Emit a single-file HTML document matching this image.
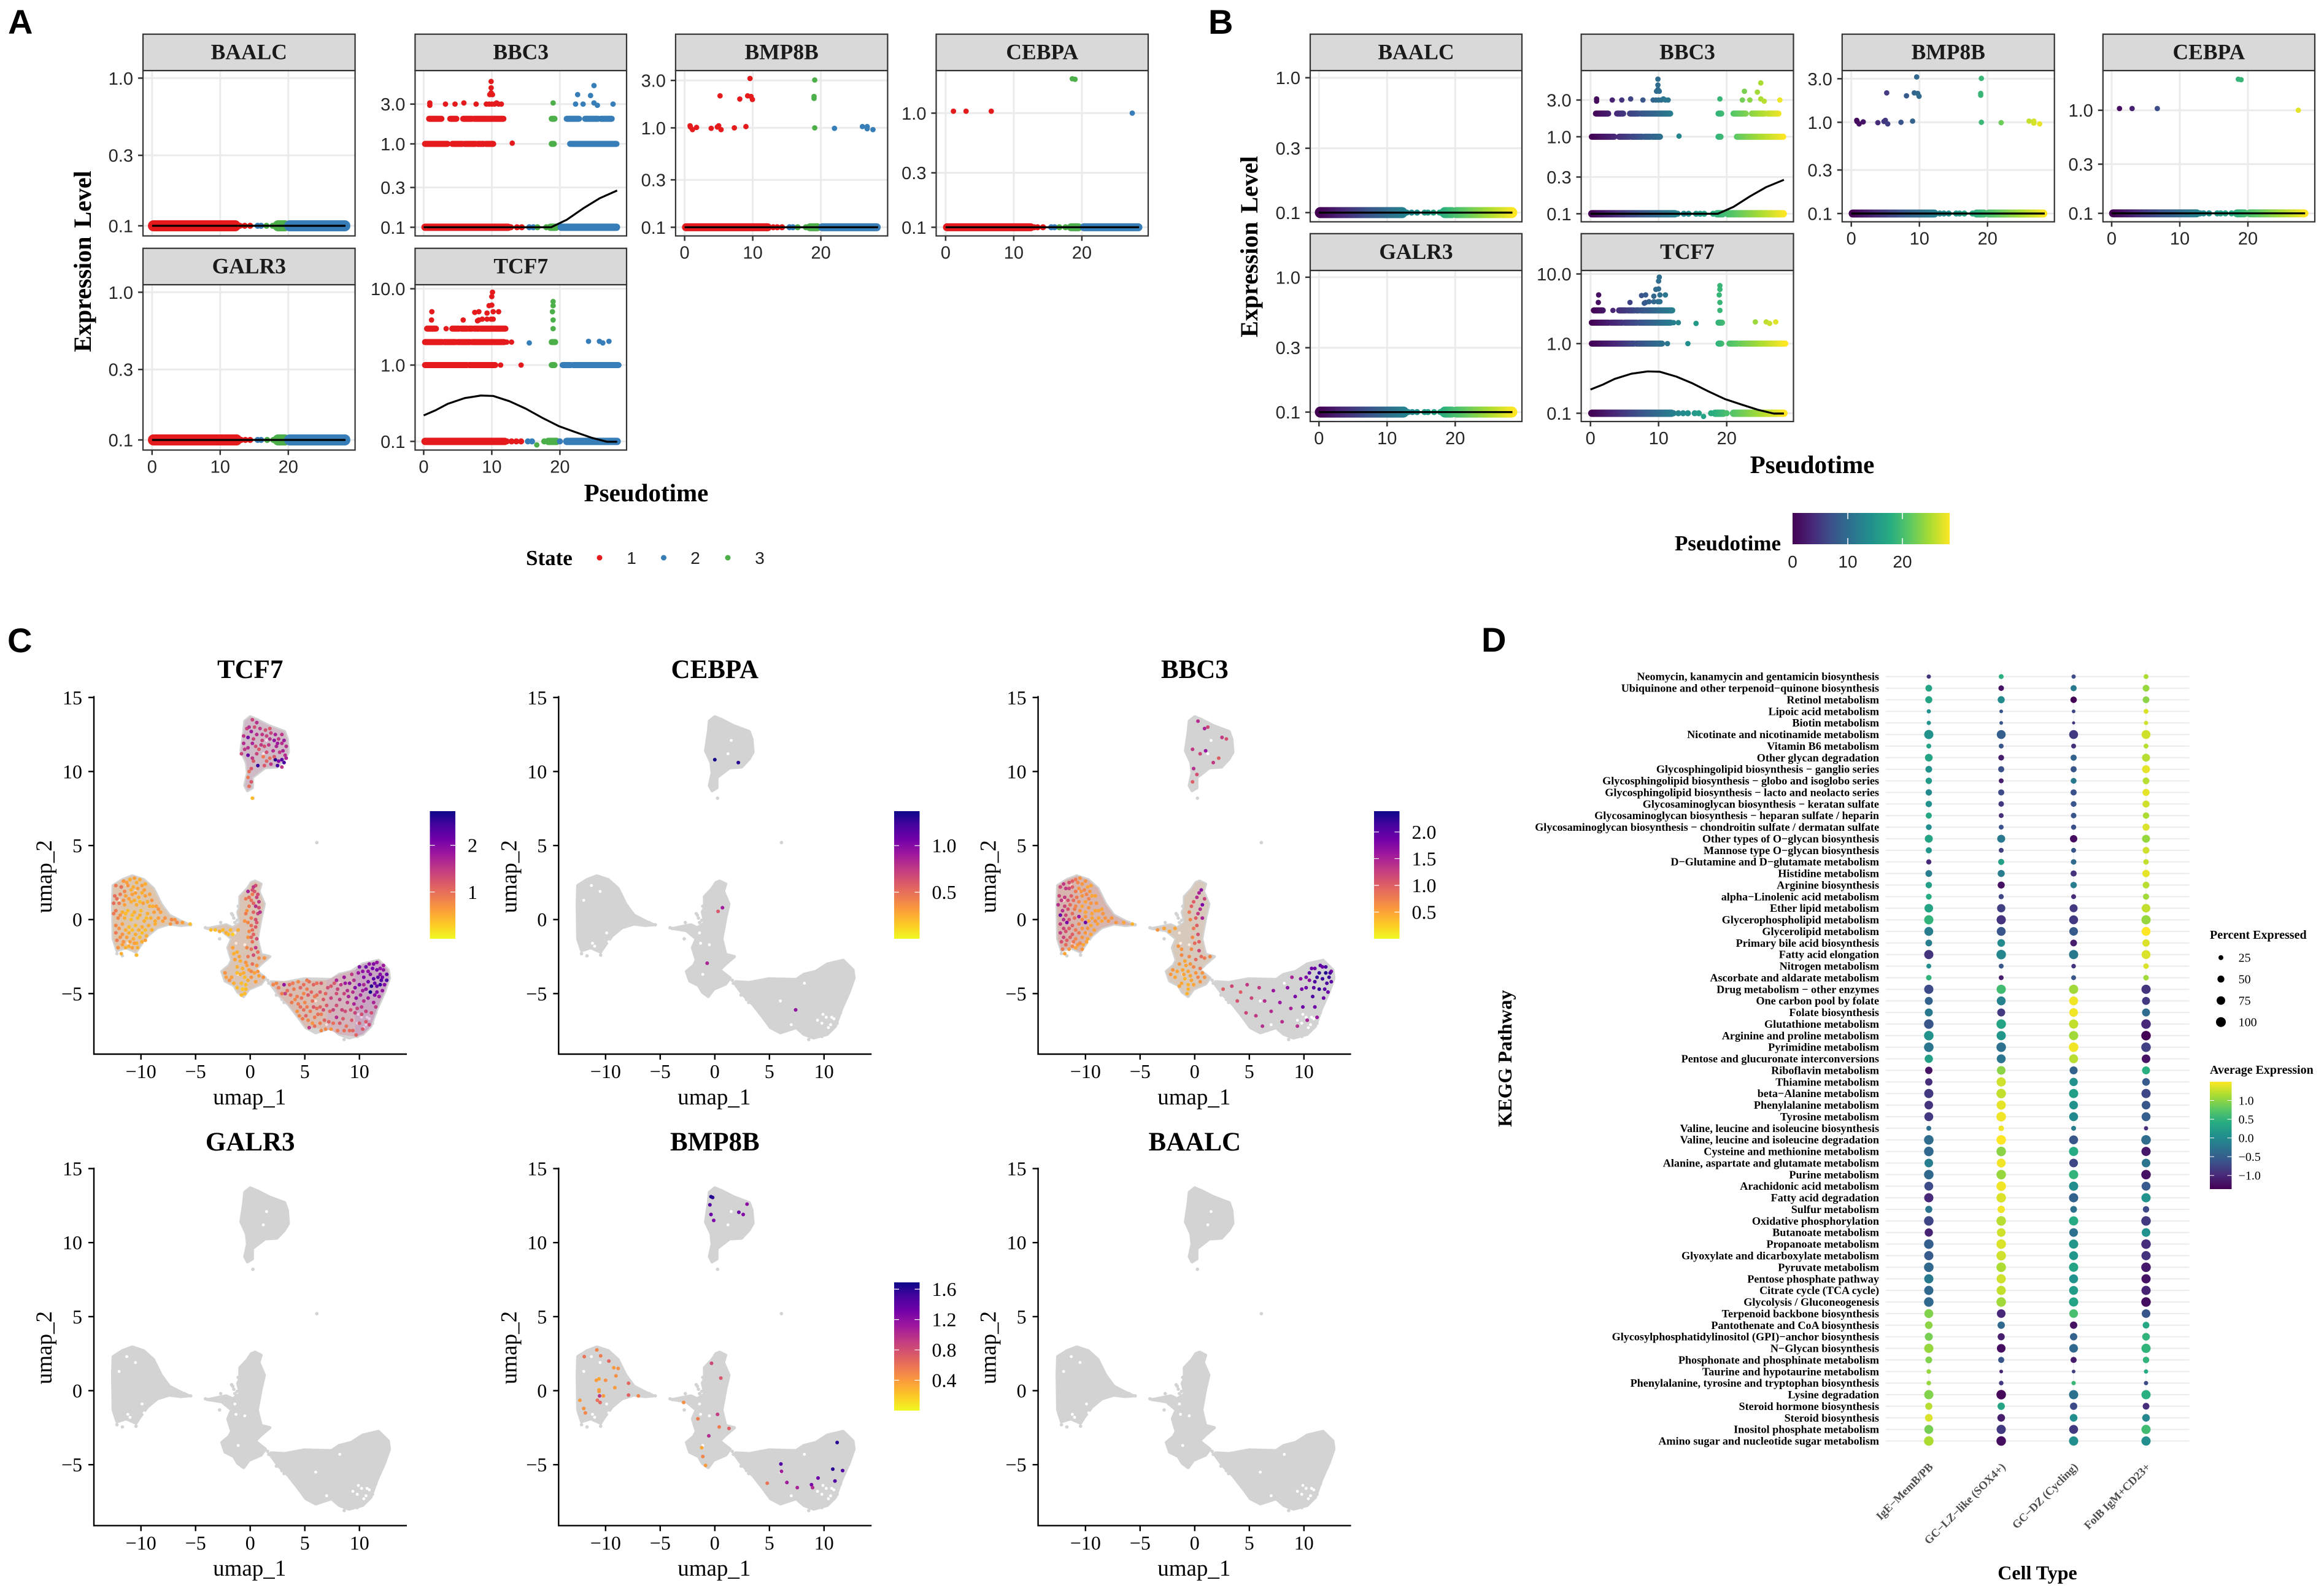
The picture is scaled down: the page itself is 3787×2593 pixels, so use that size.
<!DOCTYPE html>
<html lang="en">
<head>
<meta charset="utf-8">
<title>Pseudotime, UMAP and KEGG pathway figure</title>
<style>
html,body{margin:0;padding:0;background:#fff}
svg{display:block}
.serif{font-family:"Liberation Serif",serif}
.sans{font-family:"Liberation Sans",sans-serif}
.letter{font-family:"Liberation Sans",sans-serif;font-weight:700;font-size:56px;fill:#000}
.axt{font-family:"Liberation Serif",serif;font-weight:700;fill:#000}
</style>
</head>
<body>
<svg id="fig" xmlns="http://www.w3.org/2000/svg" width="3787" height="2593" viewBox="0 0 3787 2593">
<rect x="0" y="0" width="3787" height="2593" fill="#fff"/>
<defs>
<linearGradient id="viridisH" x1="0" y1="0" x2="1" y2="0"><stop offset="0" stop-color="#440154"/><stop offset=".125" stop-color="#482878"/><stop offset=".25" stop-color="#3b528b"/><stop offset=".375" stop-color="#2c728e"/><stop offset=".5" stop-color="#21908d"/><stop offset=".625" stop-color="#27ad81"/><stop offset=".75" stop-color="#5ec962"/><stop offset=".875" stop-color="#aadc32"/><stop offset="1" stop-color="#fde725"/></linearGradient>
<linearGradient id="viridisV" x1="0" y1="1" x2="0" y2="0"><stop offset="0" stop-color="#440154"/><stop offset=".125" stop-color="#482878"/><stop offset=".25" stop-color="#3b528b"/><stop offset=".375" stop-color="#2c728e"/><stop offset=".5" stop-color="#21908d"/><stop offset=".625" stop-color="#27ad81"/><stop offset=".75" stop-color="#5ec962"/><stop offset=".875" stop-color="#aadc32"/><stop offset="1" stop-color="#fde725"/></linearGradient>
<linearGradient id="plasmaV" x1="0" y1="0" x2="0" y2="1"><stop offset="0" stop-color="#0d0887"/><stop offset=".111" stop-color="#46039f"/><stop offset=".222" stop-color="#7201a8"/><stop offset=".333" stop-color="#9c179e"/><stop offset=".444" stop-color="#bd3786"/><stop offset=".556" stop-color="#d8576b"/><stop offset=".667" stop-color="#ed7953"/><stop offset=".778" stop-color="#fb9f3a"/><stop offset=".889" stop-color="#fdca26"/><stop offset="1" stop-color="#f0f921"/></linearGradient>
</defs>

<text class="letter" x="13" y="55">A</text>
<text class="letter" x="1969" y="55">B</text>
<text class="letter" x="12" y="1063">C</text>
<text class="letter" x="2414" y="1062">D</text>

<text class="axt" font-size="40" word-spacing="4" text-anchor="middle" transform="translate(148 426) rotate(-90)">Expression Level</text>
<text class="axt" font-size="41" text-anchor="middle" x="1053" y="817">Pseudotime</text>
<text class="axt" font-size="35" x="857" y="921">State</text>
<circle cx="977" cy="909" r="4.5" fill="#e41a1c"/>
<text class="sans" font-size="28" fill="#222" text-anchor="middle" x="1029" y="919">1</text>
<circle cx="1081.5" cy="909" r="4.5" fill="#377eb8"/>
<text class="sans" font-size="28" fill="#222" text-anchor="middle" x="1133" y="919">2</text>
<circle cx="1186" cy="909" r="4.5" fill="#4daf4a"/>
<text class="sans" font-size="28" fill="#222" text-anchor="middle" x="1238" y="919">3</text>

<text class="axt" font-size="40" word-spacing="4" text-anchor="middle" transform="translate(2049 402) rotate(-90)">Expression Level</text>
<text class="axt" font-size="41" text-anchor="middle" x="2953" y="771">Pseudotime</text>
<text class="axt" font-size="35" x="2729" y="897">Pseudotime</text>
<rect x="2921" y="836" width="256" height="51" fill="url(#viridisH)"/>
<text class="sans" font-size="28" fill="#222" text-anchor="middle" x="2921" y="925">0</text>
<text class="sans" font-size="28" fill="#222" text-anchor="middle" x="3011" y="925">10</text>
<text class="sans" font-size="28" fill="#222" text-anchor="middle" x="3100" y="925">20</text>
<path d="M3011 836v10M3011 877v10M3100 836v10M3100 877v10" stroke="#fff" stroke-width="1.5"/>

<text class="axt" font-size="32" text-anchor="middle" transform="translate(2463 1725) rotate(-90)">KEGG Pathway</text>
<text class="axt" font-size="32" text-anchor="middle" x="3320" y="2574">Cell Type</text>
<text class="axt" font-size="20" x="3601" y="1530">Percent Expressed</text>
<text class="axt" font-size="20" x="3601" y="1750">Average Expression</text>
<rect x="3601" y="1763" width="35.5" height="175" fill="url(#viridisV)"/>

<g id="root"></g>
</svg>

<script>
// ---- Pseudotime facets: shared axis ticks ----
const pseudotimeTicks = [0, 10, 20];
const ticksBAALC = [0.1, 0.3, 1];
const ticksGALR3 = [0.1, 0.3, 1];
const ticksBBC3 = [0.1, 0.3, 1, 3];
const ticksTCF7 = [0.1, 1, 10];
const ticksBMP8B = [0.1, 0.3, 1, 3];
const ticksCEBPA = [0.1, 0.3, 1];

// state spans over pseudotime: from, to, state
const stateSpans = [[0, 14.8, 1], [14.8, 16.4, 2], [16.4, 20, 3], [20, 30, 2]];

// dense runs of cells: level, from, to
const baalcBands = [[0.1, 0.2, 12.2], [0.1, 18.5, 19.5], [0.1, 20.2, 28.3]];
const baalcCells = [[12.9, 0.1], [13.6, 0.1], [14.4, 0.1], [15.5, 0.1], [16, 0.1], [16.8, 0.1], [17.7, 0.1]];
const galr3Bands = [[0.1, 0.2, 12.4], [0.1, 18.5, 19.5], [0.1, 20.2, 28.3]];
const galr3Cells = [[13.1, 0.1], [13.7, 0.1], [14.4, 0.1], [15.5, 0.1], [16, 0.1], [16.9, 0.1], [17.8, 0.1]];
const bbc3Bands = [[0.1, 0.2, 12.4], [0.1, 18.6, 19.4], [0.1, 20.2, 28.3], [1, 0.2, 3.5], [1, 4.2, 5.7], [1, 6, 7.6], [1, 7.9, 8.8], [1, 9.1, 10.2], [1, 18.8, 19.1], [1, 21.5, 28.3], [2, 0.8, 2.6], [2, 3.9, 4.8], [2, 5.8, 7.1], [2, 7.4, 11.7], [2, 18.8, 19.2], [2, 21, 22.8], [2, 23.7, 25.6], [2, 26, 27.6]];
const bbc3Cells = [[0.9, 3.1], [0.9, 2.9], [3.2, 3], [4.6, 3], [5.9, 3.1], [7.7, 3], [9.2, 3], [9.6, 3], [10, 3], [10.4, 3], [10.7, 3.1], [11, 3], [11.4, 3], [9.7, 3.9], [9.9, 4.1], [10.1, 3.9], [9.9, 4.7], [9.9, 5.6], [13, 1.02], [19, 3.1], [22.6, 3.9], [24.5, 3.8], [25, 5], [22.3, 3], [23.4, 3], [25, 3.1], [25.5, 2.9], [27.8, 3], [12.8, 0.1], [13.7, 0.1], [14.4, 0.1], [15.5, 0.1], [16.1, 0.1], [16.7, 0.1], [18, 0.1]];
const tcf7Bands = [[0.1, 0.2, 11.9], [0.1, 18.3, 19.5], [0.1, 21, 28.4], [1, 0.2, 6.4], [1, 6.7, 10.5], [1, 18.8, 19.2], [1, 20.4, 21.6], [1, 21.9, 28.6], [2, 0.2, 2.7], [2, 3, 4.7], [2, 5, 6.8], [2, 7.1, 11.8], [2, 18.8, 19.3], [3, 0.5, 1.8], [3, 4.2, 5.2], [3, 5.5, 6.4], [3, 6.7, 7.1], [3, 7.4, 8.1], [3, 8.3, 12]];
const tcf7Cells = [[12.2, 2], [12.9, 2], [3.3, 3], [11.3, 1], [14.3, 1], [15.5, 1.95], [24.2, 2.05], [25.8, 2.05], [26.3, 1.95], [27.2, 2.05], [1.2, 5], [1.15, 3.9], [5.8, 3.9], [7.5, 4.9], [8.1, 5], [8.1, 3.9], [7.9, 3.8], [9.3, 4.8], [9.3, 4], [9.9, 4], [10.2, 4], [8.6, 4], [9.6, 6], [10, 6.1], [10.2, 5], [11, 5], [10, 7.9], [10.1, 9], [19, 6.8], [19, 6], [18.9, 5], [19, 3.9], [19, 3], [12.2, 0.1], [12.9, 0.1], [13.6, 0.1], [14.3, 0.1], [15.3, 0.1], [15.9, 0.1], [16.6, 0.09], [17.7, 0.1], [20, 0.1]];
const bmp8bBands = [[0.1, 0.2, 12.2], [0.1, 18.4, 19.5], [0.1, 20.2, 28.2]];
const bmp8bCells = [[0.8, 1.05], [0.85, 1.02], [1.15, 0.96], [1.75, 1.01], [3.9, 0.99], [4.8, 1.02], [5, 1.05], [5.35, 0.96], [7.3, 1], [9, 1.03], [5.2, 2.1], [8.1, 1.95], [9.25, 2.1], [9.75, 2.07], [9.95, 1.93], [9.6, 3.14], [19.1, 3.03], [19, 1.98], [19, 2.07], [19.1, 1], [22, 0.99], [26.1, 1.03], [26.8, 1.03], [26.8, 0.98], [27.65, 0.96], [13, 0.1], [13.6, 0.1], [14.3, 0.1], [15.4, 0.1], [15.9, 0.1], [16.6, 0.1], [17.8, 0.1]];
const cebpaBands = [[0.1, 0.2, 12.5], [0.1, 18.4, 19.5], [0.1, 20.3, 28.3]];
const cebpaCells = [[1.15, 1.04], [3, 1.04], [6.7, 1.04], [18.6, 2], [19, 1.98], [27.4, 1], [13, 0.1], [13.5, 0.1], [14.3, 0.1], [15.5, 0.1], [16, 0.1], [16.7, 0.1], [17.6, 0.1]];

// fitted trend lines
const flatCurveT = [0, 28.4];
const flatCurveV = [0.1, 0.1];
const bbc3CurveT = [0, 18.7, 21, 23.4, 25.8, 28.4];
const bbc3CurveV = [0.1, 0.1, 0.123, 0.168, 0.222, 0.276];
const tcf7CurveT = [0, 1.75, 3.55, 6, 8.4, 10.2, 12.6, 15, 17.4, 19.8, 22.2, 24.6, 26.9, 28.4];
const tcf7CurveV = [0.219, 0.256, 0.311, 0.369, 0.399, 0.394, 0.336, 0.268, 0.204, 0.159, 0.133, 0.112, 0.099, 0.099];

// ---- UMAP: axis ticks ----
const umapXTicks = [-10, -5, 0, 5, 10];
const umapYTicks = [-5, 0, 5, 10, 15];

// cell cloud outlines in UMAP coordinates
const topIsland = [[0,13.7],[0.65,13.5],[1.7,13.1],[3.15,12.7],[3.4,12.2],[3.5,11.3],[3.15,10.85],[2.45,10.3],[1.35,10.25],[0.65,9.85],[0.2,9.6],[0.2,8.9],[-0.25,8.7],[-0.5,9.05],[-0.25,9.9],[-0.35,10.6],[-0.85,11.4],[-0.6,12.65],[-0.5,13.4]];
const leftIsland = [[-10.8,2.95],[-9.75,2.7],[-8.85,2.1],[-8.15,1.05],[-7.4,0.3],[-6.35,-0.1],[-5.6,-0.35],[-6.35,-0.4],[-7.4,-0.3],[-8.5,-0.55],[-9.4,-1.1],[-10.1,-1.8],[-10.45,-2.2],[-11.35,-1.9],[-12.2,-2.1],[-12.55,-1.3],[-12.6,1.05],[-12.55,2.3],[-11.7,2.7]];
const midIsland = [[0.45,2.6],[1,2.4],[0.8,1.9],[1.3,1.05],[1,0.1],[0.65,-1.3],[1,-2.35],[1.8,-2.5],[1,-3],[0.45,-3.4],[1.4,-3.95],[1,-4.35],[-0.1,-4.7],[-0.6,-5.2],[-1.15,-4.9],[-1.5,-4.45],[-2.3,-4.15],[-2.6,-3.5],[-1.95,-3.1],[-1.7,-2.75],[-2.05,-1.9],[-1.7,-1.3],[-2.6,-0.75],[-3.85,-0.6],[-2.2,-0.35],[-1.6,-0.55],[-0.9,-0.2],[-1.15,0.5],[-0.95,0.8],[-0.95,1.55],[-0.25,2.1],[0.1,2.5]];
const rightIsland = [[1.9,-4.2],[3.15,-4.25],[4.95,-4],[7.45,-4.05],[8.15,-3.7],[9.25,-3.5],[10.3,-3],[11.75,-2.75],[12.65,-3.4],[12.75,-3.95],[12.3,-4.9],[11.6,-6.05],[11.05,-7.2],[10.3,-7.75],[9.05,-8],[8.15,-7.75],[7.45,-7.3],[6,-7.65],[5.1,-7.3],[4.4,-6.6],[3.5,-5.75],[2.6,-5.1],[1.9,-4.4]];
const greyStragglers = [[6.1,5.2],[0.25,8.2],[-5.45,-0.35],[-6,-0.2],[-3.9,-0.6],[-4.1,-0.55],[1.7,-4.3],[2.4,-5.1],[2.9,-5.4],[3.1,-5.6],[10.7,-7.3],[11.2,-7],[11.5,-6.3],[9.8,-7.9],[8.6,-8.1],[-2.8,-1.3],[-1.2,-0.05],[-1.6,0.3],[-1.1,0.9],[-1.7,0.4],[-1.5,0.1],[-1.4,-0.2],[-12.2,-2.3],[-11.7,-2.45],[-10.45,-2.4],[1.6,-4.1],[-2.7,-0.2]];
// unoccupied gaps inside the clouds
const cloudGaps = [[9.8,-7],[10.2,-6.6],[10.7,-6.6],[9.4,-6.8],[10.6,-7.1],[10.9,-6.7],[9.9,-6.4],[10.4,-7.3],[-11,-1.8],[-9.7,-1.5],[-11.2,-1.6],[-9.9,-0.9],[-12,1.3],[-11.3,2.3],[-10.5,1.9],[-1.3,-1.6],[-1.4,-0.9],[-0.5,-1.7],[6,-5.5],[7,-7.1],[1.5,12.1],[1.2,11.2],[-1.1,-3.7],[8.2,-4.3]];

// west / centre / east slices of the right cloud
const rightWest = [[1.9,-4.2],[7,-4.1],[7,-7.4],[5.1,-7.3],[3.5,-5.75],[2.6,-5.1]];
const rightCentre = [[7,-4.1],[8.15,-3.7],[9.6,-3.4],[9.6,-7.9],[8.15,-7.75],[7,-7.4]];
const rightEast = [[9.6,-3.4],[10.3,-3],[11.75,-2.75],[12.65,-3.4],[12.75,-3.95],[12.3,-4.9],[11.6,-6.05],[11.05,-7.2],[10.3,-7.75],[9.6,-7.9]];

// average expression of cloud regions too dense to list cell by cell: polygon, expression, coverage
const tcf7Regions = [[leftIsland,0.6,0.25],[midIsland,0.75,0.2],[topIsland,1.5,0.15],[rightWest,0.9,0.25],[rightCentre,1.3,0.22],[rightEast,1.7,0.25]];
const bbc3Regions = [[leftIsland,0.9,0.3],[midIsland,0.6,0.15]];

// expressing cells: umap_1, umap_2, expression
const tcf7Cellsumap = [
[0.2,13.5,1.4],[0.6,13.3,1.6],[0.9,12.9,1.5],[1.4,12.8,1.3],[1.8,12.9,1.2],[2.3,12.5,1.7],[2.9,12.5,1.5],[3.1,12.1,1.8],[2.9,11.9,1.6],[3.3,11.7,1.6],[2.2,12.1,1.9],[1.5,12.4,1.4],[0.6,12.5,1.6],[0.1,12.7,1.8],[-0.3,12.9,1.4],[-0.2,12.3,2.1],[-0.6,11.9,1.6],[-0.5,11.5,1.5],[-0.8,11.2,1.4],[-0.2,11.1,2.2],[0.5,11.7,1.3],[1,11.8,1.5],[1.5,11.3,1.3],[2.1,11.4,1.6],[2.7,11.3,1.5],[3.2,11.1,1.6],[0.6,11.2,1.4],[1.2,11,0.9],[1.8,10.9,1],[2.3,10.8,2.6],[2.9,10.8,2.3],[3.1,10.6,2.4],[2.5,10.4,2.4],[1.9,10.5,1.5],[1.3,10.4,1.2],[0.7,10.4,2.5],[2.9,10.3,1.5],[0.1,10.2,1.2],[-0.2,9.6,0.9],[-0.1,9,1],[0.2,8.2,0.4],[0.1,9.3,1.2],[1.1,12.1,1.4],[1.8,12.2,1.6],[0.2,11.9,1.7],[2.5,11.9,1.8],
[0.4,13,1.3],[1.1,12.5,1.5],[1.9,12.6,1.4],[2.6,12.2,1.5],[-0.1,13,1.6],[0.3,12.2,1.4],[0.8,11.5,1.2],[1.7,11.8,1.5],[2.4,11.7,1.7],[3,11.4,1.7],[-0.6,12.4,1.5],[-0.2,11.6,1.6],[1.3,11.7,1.3],[2.2,11,1.2],[2.6,10.7,2],[1.5,10.7,1.1],[0.3,10.7,1.2],[0.2,10.9,1.5],[3.3,10.9,1.7],[-0.1,10,1],
[-11.6,2.6,0.7],[-11,2.7,0.5],[-10.6,2.8,0.6],[-10.1,2.7,0.5],[-9.6,2.4,0.5],[-12.3,2.3,0.9],[-11.8,2.2,1],[-11.2,2.3,0.7],[-10.7,2.2,0.5],[-10.3,2.1,0.6],[-9.7,2,0.6],[-9.2,1.7,0.6],[-12.4,1.6,1],[-11.9,1.7,0.9],[-11.4,1.6,0.6],[-10.8,1.7,0.6],[-10.2,1.5,0.5],[-9.6,1.6,0.6],[-9,1.3,0.7],[-12.5,1.1,1],[-12,1.1,0.9],[-11.5,1,0.6],[-10.9,1.2,0.5],[-10.4,1,0.5],[-9.8,1.1,0.6],[-9.2,0.9,0.5],[-8.6,0.9,0.6],[-12.3,0.6,0.9],[-11.7,0.5,0.5],[-11.2,0.6,0.4],[-10.6,0.5,0.5],[-10,0.6,0.4],[-9.4,0.4,0.5],[-8.8,0.5,0.6],[-8.2,0.5,0.6],[-12.1,0.1,0.8],[-11.5,0.1,0.5],[-10.9,0,0.4],[-10.3,0.1,0.4],[-9.7,-0.1,0.5],[-9.1,0.1,0.5],[-8.4,0.1,0.6],[-7.8,0.1,0.7],[-7.2,0,0.8],[-12.3,-0.4,0.8],[-11.7,-0.3,0.6],[-11.1,-0.5,0.4],[-10.5,-0.4,0.4],[-9.9,-0.5,0.5],[-9.3,-0.4,0.5],[-8.7,-0.3,0.5],[-7.3,-0.3,0.7],[-6.7,-0.2,0.8],[-6.2,-0.2,0.6],[-5.5,-0.3,0.4],[-12.3,-0.9,0.9],[-11.7,-1,0.7],[-11.1,-0.9,0.5],[-10.5,-1,0.5],[-9.9,-0.9,0.4],[-9.5,-1.1,0.5],[-12.2,-1.4,0.9],[-11.6,-1.5,0.7],[-11,-1.5,0.6],[-10.4,-1.6,0.5],[-9.9,-1.5,0.5],[-12.1,-1.9,0.7],[-11.4,-1.9,0.5],[-10.8,-1.9,0.6],[-10.3,-1.9,0.5],[-11.8,-2.3,0.5],[-10.4,-2.4,0.4],
[-11.3,2.5,0.6],[-10.4,2.5,0.5],[-9.9,2.3,0.6],[-11.5,1.9,0.8],[-10.9,2,0.5],[-10.5,1.8,0.6],[-9.9,1.8,0.5],[-9.4,1.2,0.5],[-12.2,1.4,1],[-11.6,1.3,0.7],[-11.1,1.4,0.6],[-10.6,1.3,0.5],[-10.1,1.2,0.4],[-8.9,0.9,0.5],[-8.4,0.7,0.7],[-12.5,0.4,0.9],[-11.9,0.3,0.7],[-11.4,0.4,0.4],[-10.8,0.3,0.4],[-10.1,0.3,0.5],[-9.5,0.1,0.4],[-8.7,-0.1,0.5],[-8,-0.1,0.6],[-6.9,0,0.7],[-12,-0.6,0.7],[-11.4,-0.7,0.5],[-10.8,-0.7,0.4],[-10.2,-0.7,0.5],[-9.6,-0.7,0.4],[-9,-0.7,0.5],[-11.9,-1.2,0.7],[-11.3,-1.2,0.6],[-10.7,-1.3,0.5],[-10.1,-1.2,0.4],[-9.6,-1.4,0.6],[-11.7,-1.7,0.6],[-11.1,-1.8,0.5],[-10.6,-1.6,0.6],
[0.5,2.3,1.3],[0.3,2.2,1.5],[0.4,1.9,1.2],[-0.2,1.9,1.7],[0.2,1.7,0.9],[0.6,1.5,1.4],[-0.4,1.4,0.9],[0.1,1.3,1],[0.8,1.2,1.5],[0.5,0.9,1.6],[0.8,0.8,1.3],[-0.1,0.9,0.9],[0.3,0.5,1.1],[0.7,0.4,1.4],[-0.4,0.4,0.9],[0.1,0.1,0.9],[0.5,0,1.3],[-0.5,-0.1,0.7],[0.1,-0.4,1],[0.5,-0.5,1.2],[-0.1,-0.8,0.8],[0.3,-1,1.1],[-1.1,-0.7,0.5],[-3.6,-0.7,0.4],[-3.2,-0.7,0.4],[-2.8,-0.8,0.5],[-2.5,-0.7,0.4],[-2.2,-0.9,0.5],[-1.8,-0.7,0.4],[-1.6,-1,0.3],[-2,-1,0.4],[0.2,-1.5,1],[0.5,-1.9,1.5],[0.1,-2,1],[0.3,-2.4,1.3],[-0.2,-2.5,0.9],[0.8,-2.6,0.8],[1.3,-2.6,0.7],[-1.6,-1.9,0.6],[-1.2,-2.2,0.5],[-1.4,-2.7,0.6],[-0.9,-2.8,0.5],[-0.4,-2.9,0.7],[0.2,-3,1],[0.6,-3.1,0.7],[-1.2,-3.2,0.5],[-0.7,-3.3,0.5],[-0.1,-3.4,0.6],[0.4,-3.6,0.6],[-2.3,-3.6,0.7],[-2.2,-3.9,0.6],[-1.9,-4.1,0.7],[-0.9,-3.7,0.5],[-0.5,-3.9,0.4],[0.1,-3.9,0.7],[0.8,-3.8,0.6],[1.2,-3.9,0.7],[-0.8,-4.3,0.4],[-0.4,-4.4,0.4],[-1.5,-4.3,0.5],[-0.7,-4.7,0.3],[-0.8,-5.1,0.4],[-0.5,-5,0.4],
[0.2,2,1.3],[0.7,1.7,1.3],[-0.1,1.5,1],[0.3,1.1,1.1],[0.9,0.5,1.6],[-0.3,0.6,0.7],[0.6,-0.2,1.2],[-0.2,-0.2,0.8],[0.2,-0.7,1],[-0.2,-1.2,0.7],[0.1,-1.2,1.1],[0.6,-1.3,1.3],[-0.3,-1.9,0.8],[0.7,-2.2,1],[-1.5,-2.3,0.5],[-1,-2.5,0.6],[-1.2,-3.6,0.4],[-0.3,-3.1,0.6],[0.1,-3.5,0.8],[0.7,-3.5,0.7],[-0.6,-3.6,0.5],[-1.7,-3.9,0.6],[-0.2,-4.1,0.5],[0.5,-4.2,0.6],[-1.2,-4.6,0.4],[-0.4,-4.7,0.4],
[2.1,-4.4,0.8],[2.6,-4.6,0.9],[3.1,-4.4,1.9],[3.2,-5,1.4],[2.9,-5,0.9],[3.6,-4.4,1],[4,-4.7,0.9],[4.4,-4.2,0.8],[4.9,-4.4,1],[5.4,-4.2,1],[3.7,-5.1,1],[4.3,-5.2,0.9],[4.9,-5,0.8],[5.6,-4.9,1.1],[3.8,-5.6,0.9],[4.4,-5.7,0.9],[5,-5.6,0.8],[5.7,-5.5,1],[6.1,-4.3,1],[6.4,-4.9,1.2],[4.3,-6.2,0.7],[4.9,-6.1,1],[5.5,-6.2,0.9],[6.1,-6,1],[4.8,-6.7,0.9],[5.3,-6.8,0.8],[5.9,-6.6,0.9],[6.5,-6.4,0.9],[5.4,-7.3,1.5],[5.9,-7.2,1],[6.4,-7,0.9],[6.9,-7.4,0.8],[7.2,-6.9,1.1],[7.4,-7.4,0.7],[6.7,-5.4,1.2],[7.1,-4.6,1.3],[7.4,-5.3,1.4],[7.7,-4.3,1.2],[7.9,-5.8,1.3],[7.3,-6.2,1.1],[7.9,-6.6,1.6],[8.2,-7,1.2],[8.3,-4.4,1.5],[8.6,-3.9,1.8],[8.6,-5,1.4],[8.9,-5.6,1.5],[8.7,-6.2,1.3],[9.1,-4.3,1.9],[9.4,-4.9,1.6],[9.3,-3.7,1.5],[9.5,-5.7,1.7],[9.6,-6.3,1.4],[9.9,-3.6,1.8],[10,-4.4,2.1],[10.1,-5.1,1.7],[10.2,-5.9,1.5],[10,-3.2,2],[10.4,-3.9,2],[10.6,-4.7,1.9],[10.8,-5.3,1.8],[10.6,-3.2,2.2],[11,-3.7,2],[11.1,-4.5,2.6],[11,-4.9,2.7],[11.3,-5.6,1.7],[11.1,-6.3,1.3],[10.9,-7.1,1.3],[10.3,-7.4,1.2],[9.7,-7.8,1.1],[9.1,-7.5,1],[11.3,-3,2],[11.6,-3.4,2.1],[11.9,-3.3,1.9],[11.4,-4.3,2.2],[11.7,-3.9,2.3],[11.9,-4.4,2.5],[12.2,-3.4,1.9],[12.1,-3.9,2.1],[12.5,-3.7,2.2],[12.5,-4.1,2.4],[12.1,-4.8,1.9],[11.8,-5.2,1.8],[11.6,-4.9,2],[10.4,-4.4,1.7],[9.6,-4.6,2],[8.9,-4.8,1.6],[7.9,-5,1.3],[6.8,-6.8,1.1],[6.1,-5.1,1],[5.2,-4.7,0.9],
[2.4,-4.3,0.8],[3.4,-4.8,1],[3.9,-4.3,0.9],[4.6,-4.6,1.1],[5.2,-4.1,0.9],[5.8,-4.4,1.1],[6.5,-4.3,1.2],[6.9,-5,1.1],[4.1,-5.4,0.8],[4.7,-5.3,1],[5.3,-5.1,1.2],[5.9,-5.2,0.9],[6.4,-5.9,1.1],[4.6,-5.9,1],[5.2,-5.9,0.9],[5.8,-5.9,1.2],[4.5,-6.5,0.8],[5.1,-6.5,1.1],[5.7,-7,0.7],[6.2,-6.4,1],[6.7,-6.1,1.3],[7,-5.8,1.2],[7.6,-6.1,1.4],[7.6,-7,1],[7.4,-4.5,1.2],[7.9,-4.1,1.7],[8,-4.7,1.4],[8.2,-5.4,1.5],[8.4,-6.1,1.4],[8.5,-6.7,1.2],[8.8,-7.2,1],[8.7,-4.3,1.8],[9,-5.2,1.7],[9.2,-6.1,1.3],[9.3,-6.8,1.2],[9.5,-4.1,1.6],[9.7,-5.3,1.9],[9.8,-6,1.4],[10.3,-4.8,1.8],[10.4,-5.5,1.6],[10.6,-6.2,1.4],[10.3,-3.5,1.9],[10.8,-4.2,2.1],[10.8,-3.5,1.9],[11.2,-3.3,2.1],[11.3,-4,2.3],[11.4,-5.1,2],[11.5,-5.9,1.5],[11.6,-4.5,2.2],[11.9,-3.7,2],[12,-4.1,2.3],[12.3,-4.4,2],[12.2,-3.1,1.8],[11.6,-2.9,1.9],[10.9,-3,1.9],[10.2,-6.4,1.3],[10.6,-6.9,1.2],[10,-7,1.2],[9.4,-7.5,1.1],[8.6,-7.5,1],[8,-7.5,0.9],[6.5,-7.5,0.8]
];
const bbc3Cellsumap = [
[0.3,13.4,1.4],[0.9,12.9,1.5],[1.2,13,1.2],[2.5,12.3,1.3],[2.9,12.2,1.1],[-0.2,11.5,1.3],[0.5,11.2,1.2],[1,11.4,1.6],[2.2,10.9,1],[1.7,10.6,1.3],[-0.1,10.2,1.4],[-0.2,9.3,1],[0.2,9.8,1.1],
[-11.5,2.5,1.1],[-10.9,2.7,0.8],[-10.5,2.8,0.6],[-10,2.6,0.6],[-9.5,2.3,0.5],[-12.3,2.2,1.2],[-11.8,2.1,1.3],[-11.2,2.2,1],[-10.6,2.1,0.6],[-10.1,2,0.7],[-9.6,1.9,0.6],[-9.1,1.6,0.5],[-12.4,1.6,1.2],[-11.9,1.5,1.3],[-11.3,1.6,1],[-10.8,1.5,0.8],[-10.3,1.6,0.6],[-9.7,1.4,0.7],[-9,1.1,0.6],[-12.5,1,1.4],[-11.9,0.9,1.2],[-11.4,1,0.9],[-10.9,0.9,0.7],[-10.3,0.9,0.5],[-9.7,0.8,0.6],[-9.1,0.6,0.5],[-8.5,0.7,0.5],[-12.3,0.3,1.9],[-11.8,0.3,1.2],[-11.2,0.4,0.9],[-10.6,0.2,1.6],[-10,0.2,0.6],[-9.4,0.1,0.5],[-8.8,0.1,0.5],[-8.2,0.1,0.6],[-7.6,0.1,0.6],[-12.3,-0.3,1.3],[-11.7,-0.2,1.8],[-11.2,-0.4,1],[-10.6,-0.3,0.7],[-10,-0.2,1.9],[-9.5,-0.4,0.5],[-8.9,-0.3,0.5],[-7.2,-0.2,0.6],[-6.5,-0.2,0.5],[-5.7,-0.3,0.4],[-12.3,-0.9,1.3],[-11.8,-0.8,1.1],[-11.2,-1,1],[-10.6,-0.9,0.8],[-10,-0.9,0.6],[-9.5,-1,0.5],[-12.2,-1.5,1.1],[-11.7,-1.4,1],[-11.1,-1.5,0.8],[-10.5,-1.6,0.7],[-9.9,-1.5,0.5],[-12.1,-2,0.8],[-11.5,-2,0.6],[-10.9,-1.9,0.5],[-10.3,-2,0.6],[-11.9,-2.3,0.5],
[-11.2,2.6,1],[-10.7,2.5,0.7],[-10.3,2.4,0.6],[-9.8,2.2,0.5],[-12,2.4,1.3],[-11.5,2.1,1.2],[-10.9,1.9,0.8],[-10.4,1.9,0.6],[-9.9,1.7,0.7],[-9.4,1.6,0.5],[-12.2,1.3,1.3],[-11.6,1.3,1.1],[-11.1,1.3,0.9],[-10.6,1.2,0.7],[-10,1.2,0.5],[-9.5,1.1,0.6],[-8.8,0.6,0.5],[-12.1,0.6,1.4],[-11.6,0.7,1.1],[-11,0.7,0.8],[-10.5,0.6,0.6],[-10,0.5,0.5],[-9.4,0.4,0.5],[-8.4,0.4,0.6],[-12,0,1.4],[-11.5,0,1.1],[-11,0.1,0.9],[-10.3,0,0.7],[-9.7,-0.1,0.5],[-9.1,-0.1,0.6],[-8.5,-0.1,0.5],[-7.9,-0.1,0.6],[-12,-0.6,1.2],[-11.5,-0.6,1],[-10.9,-0.7,0.8],[-10.3,-0.6,0.6],[-9.8,-0.6,0.6],[-9.2,-0.7,0.5],[-12,-1.2,1.2],[-11.4,-1.2,1],[-10.9,-1.3,0.7],[-10.3,-1.2,0.6],[-9.8,-1.3,0.5],[-11.8,-1.7,0.9],[-11.2,-1.8,0.7],[-10.7,-1.7,0.6],[-10.2,-1.7,0.5],
[0.6,2,1.7],[0.2,1.5,1.4],[0.7,1,1.8],[-0.3,0.9,1],[0.3,0.4,1.3],[0.7,0.1,1.5],[-0.4,0,0.7],[0.2,-0.4,1],[-3.4,-0.7,0.6],[-2.8,-0.6,0.5],[-2.3,-0.8,0.5],[-1.8,-0.6,0.5],[0.3,-1,1.1],[0,-1.6,0.9],[0.4,-2.1,1.2],[-1.5,-1.8,0.6],[-1.2,-2.4,0.7],[-0.5,-2.5,0.7],[0.1,-2.7,0.9],[0.9,-2.6,0.8],[1.4,-2.5,0.7],[-1.4,-3,0.6],[-0.8,-3.1,0.5],[-0.1,-3.2,0.7],[0.5,-3.3,0.8],[-2.2,-3.7,0.6],[-1.8,-3.9,0.5],[-1,-3.7,0.5],[-0.4,-3.8,0.5],[0.3,-3.9,0.7],[0.9,-3.9,0.6],[-1.2,-4.3,0.5],[-0.6,-4.4,0.4],[-0.1,-4.4,0.5],[-0.7,-5,0.4],
[0.4,1.8,1.5],[0.9,1.4,1.2],[-0.1,1.2,1],[0.5,0.7,1.4],[-0.5,0.5,0.8],[0.1,0.1,1],[-0.1,-0.6,0.8],[-0.2,-1.2,0.7],[0.4,-1.5,1],[-0.3,-2,0.7],[-1.2,-2,0.6],[0.6,-2.5,0.9],[-0.9,-2.8,0.5],[-0.4,-3,0.6],[-1.1,-3.4,0.5],[-0.6,-3.5,0.5],[0.1,-3.6,0.6],[0.7,-3.6,0.6],[-0.9,-4,0.4],[-0.3,-4.1,0.5],[0.5,-4.2,0.6],[-1.4,-4.5,0.5],[-0.6,-4.7,0.4],[-2,-3.4,0.6],[-1.6,-3.5,0.5],
[2.6,-4.7,1],[3.4,-4.5,1.2],[4.2,-4.9,1],[4.8,-4.4,1.3],[3.9,-5.5,1.1],[5.2,-5.3,1.2],[5.9,-4.6,1.3],[6.4,-5.5,1.4],[4.7,-6.3,1.2],[5.6,-6.5,1.3],[6.2,-7.2,1.4],[7,-6.2,1.4],[7.2,-4.8,1.6],[7.8,-5.6,1.6],[8,-6.9,1.4],[8.5,-4.6,1.7],[8.8,-6,1.5],[9.2,-5.2,1.8],[9.4,-7.2,1.4],[9.7,-4,1.7],[9.9,-5.9,1.9],[10.2,-4.6,1.9],[10.3,-6.8,1.5],[10.5,-3.6,2],[10.8,-5.2,2.1],[11,-3.3,1.9],[11,-4.2,2.1],[11,-5.9,1.9],[11.2,-6.6,1.6],[11.4,-3.6,2.2],[11.4,-4.7,2.2],[11.7,-3.2,1.9],[11.7,-4,2.2],[11.8,-5.3,1.9],[12,-3.6,2.3],[12.1,-4.3,2.1],[12.3,-3.9,2.2],[12.5,-3.5,1.8],[12.5,-4.2,2],[12.2,-4.9,1.9],[10.5,-4.1,1.7],[9.8,-4.7,1.8],[8.9,-3.9,1.5],
[11.2,-3.9,2.2],[11.5,-3.1,2],[12,-3.2,2.1],[11.9,-4.7,2],[12.4,-3.6,2.1],[10.7,-3.3,1.9],[10.9,-4.6,2],[10.2,-3.9,1.8]
];
const cebpaCellsumap = [[0,10.8,1.35],[2.15,10.6,1.3],[0.7,0.8,0.9],[0.3,0.55,0.6],[-0.7,-2.95,0.85],[7.4,-6.1,0.95]];
const bmp8bCellsumap = [[-0.35,13.1,1.65],[-0.2,13.05,1.6],[-0.45,12.55,1.45],[2.95,12.6,1.2],[2.2,12.05,1.35],[2.6,11.9,1.25],[-0.35,11.9,1.35],[-0.1,11.5,1.25],[-0.3,1.85,0.85],[0.55,0.85,0.75],[-10.8,2.75,0.5],[-11.95,2.3,0.6],[-10.45,2.35,0.55],[-9.7,2,0.65],[-9.25,1.55,0.4],[-8.85,1.5,0.45],[-9.05,1,0.45],[-10.85,0.7,0.4],[-10.6,0.8,0.35],[-10,0.7,0.45],[-7.9,0.5,0.65],[-9.15,0.2,0.4],[-10.6,0.05,0.35],[-10.6,-0.05,0.4],[-7.9,-0.3,0.7],[-7,-0.35,0.5],[-10.2,-0.35,0.4],[-10.55,-0.35,0.95],[-12.35,-0.65,0.4],[-10.75,-0.65,0.6],[-10.5,-0.8,0.65],[-12,-1.2,0.45],[-11.85,-1.5,0.5],[-2.85,-0.8,0.45],[-1.55,-1.9,0.55],[0.25,-1.6,0.9],[0.4,-2.45,0.55],[1.3,-2.55,0.7],[-0.55,-3.05,1],[-1.2,-3.85,0.35],[-1.1,-4.45,0.5],[-0.85,-5.05,0.4],[11.2,-3.5,1.6],[6.05,-4.95,1.45],[6.1,-5.45,1.1],[10.8,-5.3,1.6],[11.7,-5.4,1.45],[9.45,-5.9,1.35],[11,-6.1,1.45],[4.8,-6.25,0.6],[6.6,-6.2,1.1],[7.55,-6.55,1.05],[8.85,-6.35,1.3],[8.95,-6.55,1]];
const galr3Cellsumap = [];
const baalcCellsumap = [];

// colorbar ranges and printed labels
const tcf7BarMax = 2.73;
const tcf7BarTicks = [1, 2];
const tcf7BarLabels = ['1', '2'];
const cebpaBarMax = 1.37;
const cebpaBarTicks = [0.5, 1];
const cebpaBarLabels = ['0.5', '1.0'];
const bbc3BarMax = 2.39;
const bbc3BarTicks = [0.5, 1, 1.5, 2];
const bbc3BarLabels = ['0.5', '1.0', '1.5', '2.0'];
const bmp8bBarMax = 1.69;
const bmp8bBarTicks = [0.4, 0.8, 1.2, 1.6];
const bmp8bBarLabels = ['0.4', '0.8', '1.2', '1.6'];

// ---- KEGG dot plot ----
const cellTypes = ['IgE\u2212MemB/PB', 'GC\u2212LZ\u2212like (SOX4+)', 'GC\u2212DZ (Cycling)', 'FolB IgM+CD23+'];
const percentLegendValues = [25, 50, 75, 100];
const exprLegendValues = [1, 0.5, 0, -0.5, -1];
const exprLegendLabels = ['1.0', '0.5', '0.0', '\u22120.5', '\u22121.0'];
const pathways = ['Neomycin, kanamycin and gentamicin biosynthesis','Ubiquinone and other terpenoid\u2212quinone biosynthesis','Retinol metabolism','Lipoic acid metabolism','Biotin metabolism','Nicotinate and nicotinamide metabolism','Vitamin B6 metabolism','Other glycan degradation','Glycosphingolipid biosynthesis \u2212 ganglio series','Glycosphingolipid biosynthesis \u2212 globo and isoglobo series','Glycosphingolipid biosynthesis \u2212 lacto and neolacto series','Glycosaminoglycan biosynthesis \u2212 keratan sulfate','Glycosaminoglycan biosynthesis \u2212 heparan sulfate / heparin','Glycosaminoglycan biosynthesis \u2212 chondroitin sulfate / dermatan sulfate','Other types of O\u2212glycan biosynthesis','Mannose type O\u2212glycan biosynthesis','D\u2212Glutamine and D\u2212glutamate metabolism','Histidine metabolism','Arginine biosynthesis','alpha\u2212Linolenic acid metabolism','Ether lipid metabolism','Glycerophospholipid metabolism','Glycerolipid metabolism','Primary bile acid biosynthesis','Fatty acid elongation','Nitrogen metabolism','Ascorbate and aldarate metabolism','Drug metabolism \u2212 other enzymes','One carbon pool by folate','Folate biosynthesis','Glutathione metabolism','Arginine and proline metabolism','Pyrimidine metabolism','Pentose and glucuronate interconversions','Riboflavin metabolism','Thiamine metabolism','beta\u2212Alanine metabolism','Phenylalanine metabolism','Tyrosine metabolism','Valine, leucine and isoleucine biosynthesis','Valine, leucine and isoleucine degradation','Cysteine and methionine metabolism','Alanine, aspartate and glutamate metabolism','Purine metabolism','Arachidonic acid metabolism','Fatty acid degradation','Sulfur metabolism','Oxidative phosphorylation','Butanoate metabolism','Propanoate metabolism','Glyoxylate and dicarboxylate metabolism','Pyruvate metabolism','Pentose phosphate pathway','Citrate cycle (TCA cycle)','Glycolysis / Gluconeogenesis','Terpenoid backbone biosynthesis','Pantothenate and CoA biosynthesis','Glycosylphosphatidylinositol (GPI)\u2212anchor biosynthesis','N\u2212Glycan biosynthesis','Phosphonate and phosphinate metabolism','Taurine and hypotaurine metabolism','Phenylalanine, tyrosine and tryptophan biosynthesis','Lysine degradation','Steroid hormone biosynthesis','Steroid biosynthesis','Inositol phosphate metabolism','Amino sugar and nucleotide sugar metabolism'];
const avgExpression = [
[-0.9,0.45,-0.7,1.15],[0.3,-1.2,-0.2,1.05],[0.3,0,-1.35,1],[0.1,-0.6,-0.75,1.35],[0.1,-0.6,-0.9,1.3],[0.1,-0.5,-0.85,1.3],[0.3,-0.6,-0.95,1.2],[0.3,-1.1,-0.45,1.2],[0.1,-0.65,-0.6,1.4],[0.2,-1.1,-0.2,1.2],[0,-0.7,-0.65,1.4],[0.1,-0.85,-0.6,1.3],[0.35,-0.95,-0.6,1.15],[0.05,-0.65,-0.65,1.35],[0.3,-0.2,-1.25,1.05],[0.15,-0.8,-0.6,1.3],[-1,0.25,-0.35,1.25],[-0.15,-0.15,-0.9,1.4],[0.25,-1.2,-0.15,1.2],[0.4,-0.75,-0.95,1.1],[0.3,-0.8,-0.85,1.25],[0.5,-0.9,-0.85,1.05],[-0.15,-0.6,-0.55,1.5],[-0.15,0,-1.1,1.35],[-0.9,-0.05,-0.2,1.35],[0.05,-0.6,-0.9,1.35],[0.5,-1.1,-0.6,1.1],
[-0.7,0.6,1.1,-0.9],[-0.45,-0.1,1.45,-0.85],[-0.2,-0.85,1.45,-0.35],[-0.6,0.3,1.25,-1],[0.1,0.15,1.1,-1.35],[-0.25,-0.3,1.45,-0.8],[0.25,-0.25,1.2,-1.2],[-1.2,1,-0.45,0.45],[-0.95,1.3,0.1,-0.55],[-0.85,1.25,0.25,-0.75],[-0.9,1.4,0.1,-0.6],[-0.85,1.45,0,-0.5],[-0.3,1.45,-0.15,-0.95],[-0.35,1.5,-0.6,-0.35],[-0.4,1,0.4,-1.15],[-0.15,1.45,-0.75,-0.25],[-0.4,1.05,0.5,-1.2],[-0.7,1.45,0.05,-0.55],[-1,1.35,-0.45,0.1],[-0.25,1.45,-0.3,-0.7],
[-0.75,1.2,0.4,-0.85],[-1.05,1.3,-0.3,0.1],[-0.5,1.35,0.15,-0.95],[-0.55,1.3,0.15,-0.9],[-0.4,1.15,0.3,-1.15],[-0.2,1.3,0.1,-1.2],[-0.4,1.25,0.2,-1.05],[-0.4,1.1,0.3,-1.25],[0.95,-1,0.65,-0.6],[1,-0.4,-1.2,0.35],[0.9,-1.1,-0.45,0.5],[1.05,-1.25,-0.4,0.5],[0.95,-0.6,-1.1,0.5],[1.05,-1.05,-0.8,0.4],[1.05,-0.85,0.55,-0.7],[0.95,-1.3,-0.3,0.45],[1.2,0.3,-0.7,-0.95],[1.35,-1.1,0.05,-0.05],[0.9,-0.85,-0.85,0.6],[1.15,-1.25,0.05,0.05]
];
const percentExpressed = [
[19,25,19,25],[47,32,39,47],[52,52,43,47],[19,14,14,25],[19,14,10,19],[88,82,82,82],[25,25,25,25],[61,35,39,66],[47,39,39,66],[43,25,35,47],[43,39,39,52],[43,32,35,52],[39,25,32,43],[35,25,28,52],[66,66,56,66],[39,25,25,47],[28,39,32,32],[47,52,39,56],[43,52,43,47],[35,28,25,39],[77,71,66,77],[88,88,82,88],[82,82,77,82],[47,61,47,56],[88,94,88,82],[25,25,22,32],[32,25,25,32],
[88,88,88,88],[66,82,82,66],[66,66,77,66],[94,94,88,94],[94,88,88,94],[94,94,94,94],[71,82,82,77],[56,77,66,66],[56,88,71,61],[88,94,88,88],[77,88,77,77],[82,94,82,82],[25,32,25,19],[94,94,82,94],[94,94,88,88],[77,82,77,77],[94,94,88,94],[82,94,88,82],[88,94,88,88],[52,56,47,43],
[94,94,88,94],[71,77,77,77],[94,94,88,94],[88,94,82,88],[94,94,88,94],[88,88,82,88],[88,88,82,88],[94,94,88,94],[82,77,77,77],[61,56,56,47],[66,52,56,61],[88,77,77,88],[47,39,39,43],[22,14,14,19],[22,22,19,19],[88,94,88,88],[52,56,56,47],[61,61,61,61],[82,88,82,88],[94,94,88,88]
];

// ---- helpers ----
const NS = 'http://www.w3.org/2000/svg';
const root = document.getElementById('root');
function mk(tag, attrs, parent, txt) {
  const e = document.createElementNS(NS, tag);
  for (const k in attrs) e.setAttribute(k, attrs[k]);
  if (txt !== undefined) e.textContent = txt;
  parent.appendChild(e);
  return e;
}
const VIRIDIS = ['#440154','#482878','#3b528b','#2c728e','#21908d','#27ad81','#5ec962','#aadc32','#fde725'];
const PLASMA = ['#0d0887','#46039f','#7201a8','#9c179e','#bd3786','#d8576b','#ed7953','#fb9f3a','#fdca26','#f0f921'];
function ramp(stops, t) {
  t = Math.max(0, Math.min(1, t));
  const p = t * (stops.length - 1), i = Math.min(stops.length - 2, Math.floor(p)), f = p - i;
  const a = parseInt(stops[i].slice(1), 16), b = parseInt(stops[i + 1].slice(1), 16);
  const c = s => Math.round(((a >> s) & 255) * (1 - f) + ((b >> s) & 255) * f);
  return 'rgb(' + c(16) + ',' + c(8) + ',' + c(0) + ')';
}
const STATE_COLOR = {1: '#e41a1c', 2: '#377eb8', 3: '#4daf4a'};
const T_MAX = 28.5;
const X_UNIT = 11.1;

// ---- pseudotime facets ----
const geneData = {
  BAALC: {ticks: ticksBAALC, bands: baalcBands, cells: baalcCells, ct: flatCurveT, cv: flatCurveV, bw: 18},
  GALR3: {ticks: ticksGALR3, bands: galr3Bands, cells: galr3Cells, ct: flatCurveT, cv: flatCurveV, bw: 18},
  BBC3: {ticks: ticksBBC3, bands: bbc3Bands, cells: bbc3Cells, ct: bbc3CurveT, cv: bbc3CurveV, bw: 12},
  TCF7: {ticks: ticksTCF7, bands: tcf7Bands, cells: tcf7Cells, ct: tcf7CurveT, cv: tcf7CurveV, bw: 12},
  BMP8B: {ticks: ticksBMP8B, bands: bmp8bBands, cells: bmp8bCells, ct: flatCurveT, cv: flatCurveV, bw: 13},
  CEBPA: {ticks: ticksCEBPA, bands: cebpaBands, cells: cebpaCells, ct: flatCurveT, cv: flatCurveV, bw: 13}
};
const facetsA = [
  {gene:'BAALC', left:233, right:578.6, st:55.7, sb:115, pb:384.5, x0:247.8, y01:368, y1:127.3, xl:false},
  {gene:'BBC3', left:676.4, right:1021, st:55.7, sb:115, pb:384.5, x0:690.4, y01:370.4, y1:234.5, xl:false},
  {gene:'BMP8B', left:1100.9, right:1446.4, st:55.7, sb:115, pb:384.5, x0:1115.6, y01:370.4, y1:208.4, xl:true},
  {gene:'CEBPA', left:1525.5, right:1871, st:55.7, sb:115, pb:384.5, x0:1540.9, y01:370.4, y1:184.4, xl:true},
  {gene:'GALR3', left:233, right:578.6, st:404.7, sb:464, pb:733.5, x0:247.8, y01:717, y1:476.3, xl:true},
  {gene:'TCF7', left:676.4, right:1021, st:404.7, sb:464, pb:733.5, x0:690.4, y01:719.4, y1:595, xl:true}
];
const facetsB = [
  {gene:'BAALC', left:2135, right:2480, st:55.7, sb:115, pb:361.5, x0:2149.3, y01:346.5, y1:126.7, xl:false},
  {gene:'BBC3', left:2576.6, right:2922.5, st:55.7, sb:115, pb:361.5, x0:2591.7, y01:348.4, y1:222.9, xl:false},
  {gene:'BMP8B', left:3001.8, right:3347.7, st:55.7, sb:115, pb:361.5, x0:3016.7, y01:348, y1:199.3, xl:true},
  {gene:'CEBPA', left:3426.8, right:3772, st:55.7, sb:115, pb:361.5, x0:3441, y01:347.7, y1:179.7, xl:true},
  {gene:'GALR3', left:2135, right:2480, st:380.8, sb:440.8, pb:687, x0:2149.3, y01:671.6, y1:451.8, xl:true},
  {gene:'TCF7', left:2576.6, right:2922.5, st:380.8, sb:440.8, pb:687, x0:2591.7, y01:673.5, y1:560, xl:true}
];
const defs = document.querySelector('defs');
function stateOf(t) {
  for (const s of stateSpans) if (t >= s[0] && t < s[1]) return s[2];
  return 2;
}
function drawFacet(f, mode, idx) {
  const d = geneData[f.gene];
  const X = t => f.x0 + t * X_UNIT;
  const Y = v => f.y01 - Math.log10(v / 0.1) * (f.y01 - f.y1);
  const g = mk('g', {}, root);
  
  
  const bg = mk('rect', {x: f.left, y: f.sb, width: f.right - f.left, height: f.pb - f.sb, fill: '#fff'}, g);
  
  
  for (const tk of d.ticks) {
    const gl = mk('line', {x1: f.left, x2: f.right, y1: Y(tk), y2: Y(tk), stroke: '#ebebeb', 'stroke-width': 3}, g);
    
    
    const tm = mk('line', {x1: f.left - 8, x2: f.left, y1: Y(tk), y2: Y(tk), stroke: '#333', 'stroke-width': 2.5}, g);
    
    
    const tl = mk('text', {x: f.left - 16, y: Y(tk) + 10.5, 'text-anchor': 'end', 'font-size': 29, fill: '#262626', 'class': 'sans'}, g, tk.toFixed(1));
    
    
  }
  for (const tk of pseudotimeTicks) {
    const gl = mk('line', {x1: X(tk), x2: X(tk), y1: f.sb, y2: f.pb, stroke: '#ebebeb', 'stroke-width': 3}, g);
    
    
    if (f.xl) {
      const tm = mk('line', {x1: X(tk), x2: X(tk), y1: f.pb, y2: f.pb + 8, stroke: '#333', 'stroke-width': 2.5}, g);
      
      
      const tl = mk('text', {x: X(tk), y: f.pb + 37, 'text-anchor': 'middle', 'font-size': 29, fill: '#262626', 'class': 'sans'}, g, String(tk));
      
      
    }
  }
  let gradId = null;
  if (mode === 'b') {
    gradId = 'vg' + idx;
    const lg = mk('linearGradient', {id: gradId, gradientUnits: 'userSpaceOnUse', x1: X(0), y1: 0, x2: X(T_MAX), y2: 0}, defs);
    VIRIDIS.forEach((c, i) => mk('stop', {offset: i / (VIRIDIS.length - 1), 'stop-color': c}, lg));
  }
  for (const b of d.bands) {
    const w = b[0] === 0.1 ? d.bw : 10;
    if (mode === 'a') {
      for (const s of stateSpans) {
        const a0 = Math.max(b[1], s[0]), a1 = Math.min(b[2], s[1]);
        if (a1 <= a0) continue;
        const ln = mk('line', {x1: X(a0), x2: X(a1), y1: Y(b[0]), y2: Y(b[0]), stroke: STATE_COLOR[s[2]], 'stroke-width': w, 'stroke-linecap': 'round'}, g);
        
        
      }
    } else {
      const ln = mk('line', {x1: X(b[1]), x2: X(b[2]), y1: Y(b[0]), y2: Y(b[0]), stroke: 'url(#' + gradId + ')', 'stroke-width': w, 'stroke-linecap': 'round'}, g);
      
      
    }
  }
  for (const c of d.cells) {
    const col = mode === 'a' ? STATE_COLOR[stateOf(c[0])] : ramp(VIRIDIS, c[0] / T_MAX);
    const pt = mk('circle', {cx: X(c[0]), cy: Y(c[1]), r: c[1] === 0.1 ? 5 : 4.4, fill: col}, g);
    
    
  }
  const pts = d.ct.map((t, i) => X(t) + ',' + Y(d.cv[i])).join(' ');
  const curve = mk('polyline', {points: pts, fill: 'none', stroke: '#000', 'stroke-width': 3.2, 'stroke-linejoin': 'round'}, g);
  
  
  const border = mk('rect', {x: f.left, y: f.sb, width: f.right - f.left, height: f.pb - f.sb, fill: 'none', stroke: '#333', 'stroke-width': 2.2}, g);
  
  
  const strip = mk('rect', {x: f.left, y: f.st, width: f.right - f.left, height: f.sb - f.st, fill: '#d9d9d9', stroke: '#333', 'stroke-width': 2.2}, g);
  
  
  const title = mk('text', {x: (f.left + f.right) / 2, y: f.st + 41, 'text-anchor': 'middle', 'font-size': 35.5, 'font-weight': 700, fill: '#1a1a1a', 'class': 'serif'}, g, f.gene);
  
  
}
facetsA.forEach((f, i) => drawFacet(f, 'a', i));
facetsB.forEach((f, i) => drawFacet(f, 'b', i));

// ---- UMAP panels ----
const umapPanels = [
  {gene:'TCF7', axisX:153, zeroX:407.7, zeroY:1498.7, top:1134.4, bottom:1718, titleY:1105, xTitleY:1800, cells:tcf7Cellsumap, regions:tcf7Regions, max:tcf7BarMax, barX:700.5, barY:1322, barH:208, barTicks:tcf7BarTicks, barLabels:tcf7BarLabels},
  {gene:'CEBPA', axisX:910.3, zeroX:1164.8, zeroY:1498.7, top:1134.4, bottom:1718, titleY:1105, xTitleY:1800, cells:cebpaCellsumap, regions:[], max:cebpaBarMax, barX:1457, barY:1322, barH:208, barTicks:cebpaBarTicks, barLabels:cebpaBarLabels},
  {gene:'BBC3', axisX:1691.6, zeroX:1946.8, zeroY:1498.7, top:1134.4, bottom:1718, titleY:1105, xTitleY:1800, cells:bbc3Cellsumap, regions:bbc3Regions, max:bbc3BarMax, barX:2239, barY:1322, barH:208, barTicks:bbc3BarTicks, barLabels:bbc3BarLabels},
  {gene:'GALR3', axisX:153, zeroX:407.7, zeroY:2266.5, top:1903, bottom:2486.4, titleY:1875, xTitleY:2568, cells:galr3Cellsumap, regions:[], max:1},
  {gene:'BMP8B', axisX:910.3, zeroX:1164.8, zeroY:2266.5, top:1903, bottom:2486.4, titleY:1875, xTitleY:2568, cells:bmp8bCellsumap, regions:[], max:bmp8bBarMax, barX:1457, barY:2090, barH:209, barTicks:bmp8bBarTicks, barLabels:bmp8bBarLabels},
  {gene:'BAALC', axisX:1691.6, zeroX:1946.8, zeroY:2266.5, top:1903, bottom:2486.4, titleY:1875, xTitleY:2568, cells:baalcCellsumap, regions:[], max:1}
];
const clusterOutlines = [topIsland, leftIsland, midIsland, rightIsland];
const U_X = 17.8, U_Y = 24.13;
function fmtMinus(n) { return n < 0 ? '\u2212' + (-n) : String(n); }
function drawUmap(p) {
  const X = u => p.zeroX + u * U_X;
  const Y = v => p.zeroY - v * U_Y;
  const poly = o => o.map(q => X(q[0]) + ',' + Y(q[1])).join(' ');
  const g = mk('g', {'class': 'serif'}, root);
  
  
  for (const o of clusterOutlines) {
    const c = mk('polygon', {points: poly(o), fill: '#d3d3d3', stroke: '#d3d3d3', 'stroke-width': 5, 'stroke-linejoin': 'round'}, g);
    
    
  }
  for (const s of greyStragglers) {
    const c = mk('circle', {cx: X(s[0]), cy: Y(s[1]), r: 2.8, fill: '#d3d3d3'}, g);
    
    
  }
  for (const s of cloudGaps) {
    const c = mk('circle', {cx: X(s[0]), cy: Y(s[1]), r: 2.4, fill: '#fff'}, g);
    
    
  }
  for (const r of p.regions) {
    const c = mk('polygon', {points: poly(r[0]), fill: ramp(PLASMA, 1 - r[1] / p.max), 'fill-opacity': r[2]}, g);
    
    
  }
  for (const c of p.cells) {
    const pt = mk('circle', {cx: X(c[0]), cy: Y(c[1]), r: 3, fill: ramp(PLASMA, 1 - c[2] / p.max)}, g);
    
    
  }
  const ax = mk('path', {d: 'M' + p.axisX + ' ' + p.top + 'V' + p.bottom + 'H' + (p.axisX + 510), fill: 'none', stroke: '#000', 'stroke-width': 2.4}, g);
  
  
  for (const t of umapXTicks) {
    const tm = mk('line', {x1: X(t), x2: X(t), y1: p.bottom, y2: p.bottom + 9, stroke: '#000', 'stroke-width': 2.4}, g);
    
    
    const tl = mk('text', {x: X(t), y: p.bottom + 39, 'text-anchor': 'middle', 'font-size': 32, fill: '#000'}, g, fmtMinus(t));
    
    
  }
  for (const t of umapYTicks) {
    const tm = mk('line', {x1: p.axisX - 9, x2: p.axisX, y1: Y(t), y2: Y(t), stroke: '#000', 'stroke-width': 2.4}, g);
    
    
    const tl = mk('text', {x: p.axisX - 19, y: Y(t) + 11, 'text-anchor': 'end', 'font-size': 32, fill: '#000'}, g, fmtMinus(t));
    
    
  }
  const title = mk('text', {x: p.zeroX, y: p.titleY, 'text-anchor': 'middle', 'font-size': 43, 'font-weight': 700, fill: '#000'}, g, p.gene);
  
  
  const xt = mk('text', {x: p.zeroX - 1, y: p.xTitleY, 'text-anchor': 'middle', 'font-size': 37, fill: '#000'}, g, 'umap_1');
  
  
  const yt = mk('text', {'text-anchor': 'middle', 'font-size': 37, fill: '#000', transform: 'translate(' + (p.axisX - 69) + ' ' + (p.zeroY - 70) + ') rotate(-90)'}, g, 'umap_2');
  
  
  if (p.barX !== undefined) {
    const bw = 41.5;
    const bar = mk('rect', {x: p.barX, y: p.barY, width: bw, height: p.barH, fill: 'url(#plasmaV)'}, g);
    
    
    p.barTicks.forEach((t, i) => {
      const y = p.barY + p.barH - t / p.max * p.barH;
      const a = mk('path', {d: 'M' + p.barX + ' ' + y + 'h8M' + (p.barX + bw - 8) + ' ' + y + 'h8', stroke: '#fff', 'stroke-width': 1.2, fill: 'none'}, g);
      
      
      const tl = mk('text', {x: p.barX + bw + 20, y: y + 11, 'font-size': 32, fill: '#000'}, g, p.barLabels[i]);
      
      
    });
  }
}
umapPanels.forEach(drawUmap);

// ---- KEGG dot plot ----
const D_ROW0 = 1102.7, D_ROW_STEP = 18.876, D_COL0 = 3143, D_COL_STEP = 118;
const D_EXPR_MIN = -1.36, D_EXPR_MAX = 1.5;
const dotY = i => D_ROW0 + i * D_ROW_STEP;
const dotX = j => D_COL0 + j * D_COL_STEP;
const dotDiameter = pct => 16 * Math.sqrt(pct / 100);
const dotColor = e => ramp(VIRIDIS, (e - D_EXPR_MIN) / (D_EXPR_MAX - D_EXPR_MIN));
const dg = mk('g', {'class': 'serif'}, root);


cellTypes.forEach((c, j) => {
  const v = mk('line', {x1: dotX(j), x2: dotX(j), y1: 1092, y2: 2360, stroke: '#ebebeb', 'stroke-width': 1}, dg);
  
  
});
pathways.forEach((name, i) => {
  const h = mk('line', {x1: 3072.7, x2: 3567.5, y1: dotY(i), y2: dotY(i), stroke: '#ebebeb', 'stroke-width': 2}, dg);
  
  
  const t = mk('text', {x: 3062, y: dotY(i) + 6, 'text-anchor': 'end', 'font-size': 18.15, 'font-weight': 700, fill: '#000'}, dg, name);
  
  
  cellTypes.forEach((c, j) => {
    const dot = mk('circle', {cx: dotX(j), cy: dotY(i), r: dotDiameter(percentExpressed[i][j]) / 2, fill: dotColor(avgExpression[i][j])}, dg);
    
    
  });
});
cellTypes.forEach((c, j) => {
  const t = mk('text', {'text-anchor': 'end', 'font-size': 18.6, 'font-weight': 700, fill: '#4d4d4d', transform: 'translate(' + (dotX(j) + 8) + ' 2392) rotate(-45)'}, dg, c);
  
  
});
percentLegendValues.forEach((pct, i) => {
  const y = 1560.7 + i * 35;
  const k = mk('circle', {cx: 3619, cy: y, r: dotDiameter(pct) / 2, fill: '#000'}, dg);
  
  
  const t = mk('text', {x: 3647.6, y: y + 7, 'font-size': 20, fill: '#000'}, dg, String(pct));
  
  
});
exprLegendValues.forEach((v, i) => {
  const y = 1937.7 - (v - D_EXPR_MIN) / (D_EXPR_MAX - D_EXPR_MIN) * 174.7;
  const a = mk('path', {d: 'M3601 ' + y + 'h7M3629.5 ' + y + 'h7', stroke: '#fff', 'stroke-width': 1, fill: 'none'}, dg);
  
  
  const t = mk('text', {x: 3647.6, y: y + 7, 'font-size': 20, fill: '#000'}, dg, exprLegendLabels[i]);
  
  
});
</script>
</body>
</html>
